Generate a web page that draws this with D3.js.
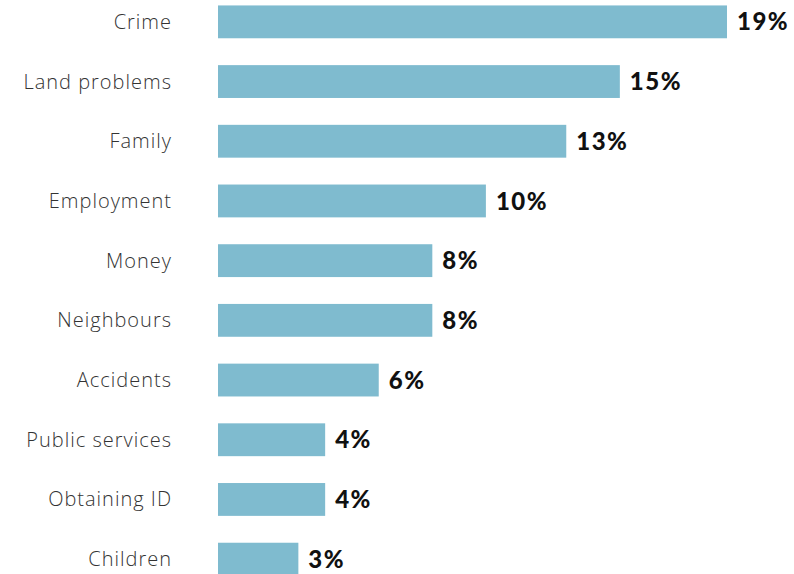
<!DOCTYPE html>
<html><head><meta charset="utf-8">
<script src="https://cdn.jsdelivr.net/npm/d3@7"></script>
<style>html,body{margin:0;padding:0;background:#fff;}svg{display:block;}</style>
</head><body>
<svg id="chart" width="794" height="574"></svg>
<script>
const categories = ["Crime","Land problems","Family","Employment","Money","Neighbours","Accidents","Public services","Obtaining ID","Children"];
const values = [19,15,13,10,8,8,6,4,4,3];
const valueLabels = ["19%","15%","13%","10%","8%","8%","6%","4%","4%","3%"];

const svg = d3.select("#chart");
const x = d3.scaleLinear().domain([0,19]).range([218,727]);
const y = d3.scaleBand().domain(categories).range([-8,589]).paddingInner(0.45).paddingOuter(0.225);
const data = categories.map((c,i)=>({c, v:values[i], l:valueLabels[i]}));

svg.selectAll("rect.bar").data(data).join("rect").attr("class","bar")
  .attr("x", x(0)).attr("y", d=>y(d.c)).attr("width", d=>x(d.v)-x(0)).attr("height", y.bandwidth())
  .attr("fill","#7fbbcf");

svg.selectAll("text.cat").data(data).join("text").attr("class","cat")
  .attr("x", 172).attr("y", d=>y(d.c)+y.bandwidth()/2).attr("dy","0.35em")
  .attr("text-anchor","end").attr("font-family","'Open Sans', Lato, sans-serif").attr("font-weight","300")
  .attr("font-size","20px").attr("fill","#333").attr("letter-spacing","1px").text(d=>d.c);

svg.selectAll("text.val").data(data).join("text").attr("class","val")
  .attr("x", d=>x(d.v)+10).attr("y", d=>y(d.c)+y.bandwidth()/2).attr("dy","0.36em")
  .attr("font-family","Lato, 'Open Sans', sans-serif").attr("font-weight","900")
  .attr("font-size","24px").attr("fill","#111").attr("letter-spacing","1.5px").text(d=>d.l);
</script>
</body></html>
